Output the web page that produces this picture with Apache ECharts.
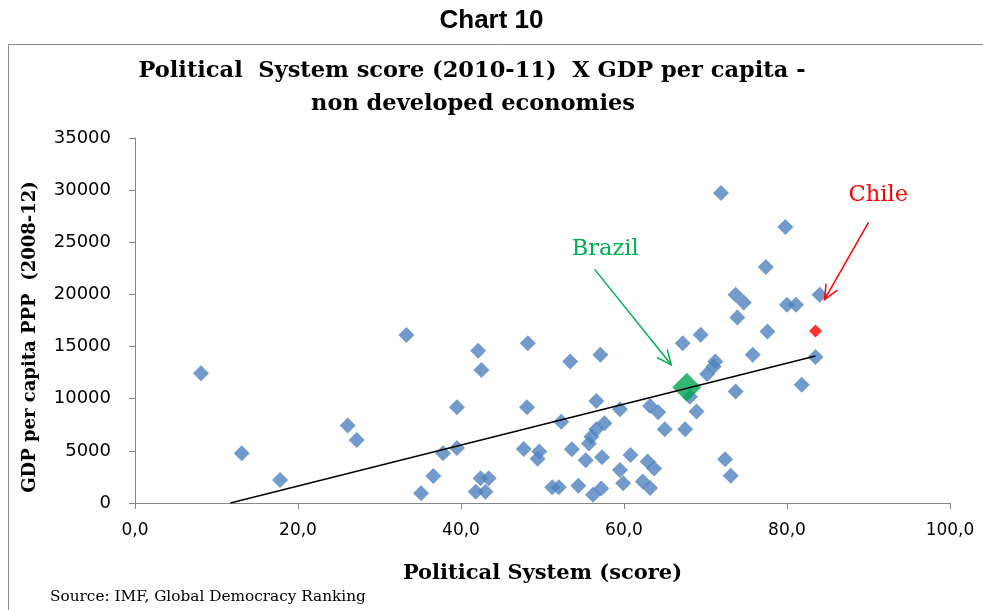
<!DOCTYPE html>
<html>
<head>
<meta charset="utf-8">
<script src="https://cdn.jsdelivr.net/npm/echarts@6/dist/echarts.min.js"></script>
<style>
  html, body { margin: 0; padding: 0; background: #fff; }
  #chart { width: 983px; height: 610px; }
</style>
</head>
<body>
<div id="chart"></div>
<script>
// Political System score (x) vs GDP per capita PPP (y), non developed economies
const scores = [
  8.1, 13.1, 17.8, 26.1, 27.2, 33.3, 35.1, 36.6, 37.8, 39.5,
  39.5, 42.1, 42.5, 42.4, 43.4, 41.8, 43.0, 47.7, 48.1, 48.2,
  49.6, 49.4, 51.2, 52.0, 52.3, 53.4, 53.6, 54.4, 55.3, 55.7,
  56.0, 56.6, 57.6, 56.6, 56.2, 57.2, 57.1, 57.3, 59.5, 59.5,
  59.9, 60.8, 62.3, 63.2, 62.9, 63.7, 63.2, 64.2, 65.0, 67.2,
  67.5, 68.1, 68.9, 69.4, 70.2, 71.0, 71.2, 71.9, 72.4, 73.1,
  73.7, 73.7, 74.7, 73.9, 75.8, 77.4, 77.6, 79.8, 80.0, 81.1,
  81.8, 83.5, 84.0
];
const gdpPerCapita = [
  12450, 4770, 2200, 7420, 6050, 16100, 930, 2600, 4770, 9170,
  5280, 14600, 12750, 2370, 2370, 1090, 1090, 5180, 9170, 15330,
  4930, 4250, 1500, 1500, 7800, 13560, 5150, 1660, 4100, 5700,
  6360, 7070, 7650, 9780, 800, 1400, 14210, 4390, 9000, 3170,
  1890, 4610, 2050, 1450, 3970, 3300, 9300, 8700, 7070, 15330,
  7070, 10200, 8770, 16130, 12380, 13080, 13560, 29730, 4190, 2620,
  10690, 19970, 19220, 17790, 14210, 22620, 16450, 26460, 19000, 19000,
  11330, 14000, 19970
];

// Highlighted countries
const brazilPoint = [67.7, 11100];
const chilePoint = [83.5, 16500];

// Linear trend line end points
const trendScore = [11.7, 83.5];
const trendGdp = [0, 14100];

// Callouts: label position, arrow start, arrow tip
const calloutNames = ['Brazil', 'Chile'];
const calloutLabel = [[57.7, 24300], [91.2, 29500]];
const calloutFrom = [[56.4, 22400], [90.0, 26900]];
const calloutTo = [[65.8, 13250], [84.6, 19500]];
const calloutColors = ['#00b050', '#ff0000'];

// Axis ticks
const xTicks = [0, 20, 40, 60, 80, 100];
const yTicks = [0, 5000, 10000, 15000, 20000, 25000, 30000, 35000];

const chart = echarts.init(document.getElementById('chart'));

const pointData = scores.map((s, i) => [s, gdpPerCapita[i]]);
const trendData = trendScore.map((s, i) => [s, trendGdp[i]]);
const calloutData = calloutNames.map((n, i) => [
  calloutFrom[i][0], calloutFrom[i][1], calloutTo[i][0], calloutTo[i][1],
  calloutLabel[i][0], calloutLabel[i][1], i
]);

const boldSerif = '"DejaVu Serif", "Liberation Serif", serif';
const axisColor = '#868686';

chart.setOption({
  animation: false,
  backgroundColor: '#ffffff',
  title: {
    text: 'Chart 10',
    left: 'center',
    top: 3,
    textStyle: { fontFamily: '"Liberation Sans", Arial, sans-serif', fontWeight: 'bold', fontSize: 26, color: '#000' }
  },
  graphic: [
    {
      type: 'rect',
      shape: { x: 8.5, y: 44.5, width: 1000, height: 600 },
      style: { fill: 'none', stroke: '#8c8c8c', lineWidth: 1 },
      silent: true
    },
    {
      type: 'text',
      x: 472,
      y: 71,
      style: { text: 'Political  System score (2010-11)  X GDP per capita -', font: 'bold 22.5px "DejaVu Serif", serif', fill: '#000', align: 'center', verticalAlign: 'middle' }
    },
    {
      type: 'text',
      x: 473,
      y: 104,
      style: { text: 'non developed economies', font: 'bold 22.5px "DejaVu Serif", serif', fill: '#000', align: 'center', verticalAlign: 'middle' }
    },
    {
      type: 'text',
      x: 30,
      y: 337,
      rotation: Math.PI / 2,
      style: { text: 'GDP per capita PPP  (2008-12)', font: 'bold 18px "DejaVu Serif", serif', fill: '#000', align: 'center', verticalAlign: 'middle' }
    },
    {
      type: 'text',
      left: 50,
      top: 590,
      style: { text: 'Source: IMF, Global Democracy Ranking', font: '15.3px "DejaVu Serif", serif', fill: '#000' }
    }
  ],
  grid: { left: 135, right: 33, top: 138, bottom: 107 },
  xAxis: {
    type: 'value',
    min: xTicks[0],
    max: xTicks[xTicks.length - 1],
    interval: 20,
    name: 'Political System (score)',
    nameLocation: 'middle',
    nameGap: 60,
    nameTextStyle: { fontFamily: boldSerif, fontWeight: 'bold', fontSize: 21, color: '#000' },
    axisLine: { show: true, lineStyle: { color: axisColor, width: 1 } },
    axisTick: { show: true, length: 6, inside: false, lineStyle: { color: axisColor } },
    axisLabel: {
      margin: 19,
      fontFamily: '"DejaVu Sans", Verdana, sans-serif',
      fontSize: 17,
      color: '#000',
      formatter: v => v.toFixed(1).replace('.', ',')
    },
    splitLine: { show: false }
  },
  yAxis: {
    type: 'value',
    min: yTicks[0],
    max: yTicks[yTicks.length - 1],
    interval: 5000,
    axisLine: { show: true, lineStyle: { color: axisColor, width: 1 } },
    axisTick: { show: true, length: 6, inside: false, lineStyle: { color: axisColor } },
    axisLabel: {
      margin: 24,
      fontFamily: '"DejaVu Sans", Verdana, sans-serif',
      fontSize: 18,
      color: '#000',
      formatter: v => String(v)
    },
    splitLine: { show: false }
  },
  series: [
    {
      name: 'Countries',
      type: 'scatter',
      symbol: 'diamond',
      symbolSize: 16,
      itemStyle: { color: '#4f81bd' },
      data: pointData,
      z: 2
    },
    {
      name: 'Brazil',
      type: 'scatter',
      symbol: 'diamond',
      symbolSize: 29,
      itemStyle: { color: '#00a651' },
      data: [brazilPoint],
      z: 3
    },
    {
      name: 'Chile',
      type: 'scatter',
      symbol: 'diamond',
      symbolSize: 13,
      itemStyle: { color: '#ff0000' },
      data: [chilePoint],
      z: 4
    },
    {
      name: 'Trend',
      type: 'line',
      data: trendData,
      showSymbol: false,
      symbol: 'none',
      lineStyle: { color: '#000', width: 1.5 },
      z: 5
    },
    {
      name: 'Callouts',
      type: 'custom',
      data: calloutData,
      z: 6,
      renderItem: (params, api) => {
        const p0 = api.coord([api.value(0), api.value(1)]);
        const p1 = api.coord([api.value(2), api.value(3)]);
        const pl = api.coord([api.value(4), api.value(5)]);
        const idx = api.value(6);
        const color = calloutColors[idx];
        const ang = Math.atan2(p1[1] - p0[1], p1[0] - p0[0]);
        const head = 16, spread = 0.42;
        const h1 = [p1[0] - head * Math.cos(ang - spread), p1[1] - head * Math.sin(ang - spread)];
        const h2 = [p1[0] - head * Math.cos(ang + spread), p1[1] - head * Math.sin(ang + spread)];
        return {
          type: 'group',
          children: [
            { type: 'line', shape: { x1: p0[0], y1: p0[1], x2: p1[0], y2: p1[1] }, style: { stroke: color, lineWidth: 1.5 } },
            { type: 'polyline', shape: { points: [h1, p1, h2] }, style: { stroke: color, lineWidth: 1.5, fill: 'none' } },
            { type: 'text', x: pl[0], y: pl[1], style: { text: calloutNames[idx], fill: color, font: '22.5px "DejaVu Serif", serif', align: 'center', verticalAlign: 'middle' } }
          ]
        };
      }
    }
  ]
});
</script>
</body>
</html>
